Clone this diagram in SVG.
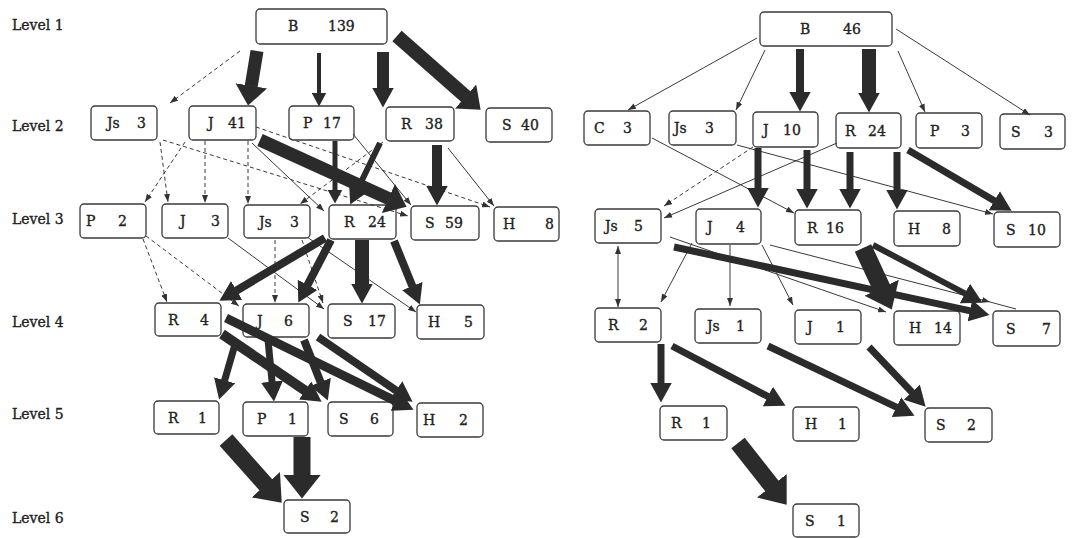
<svg xmlns="http://www.w3.org/2000/svg" width="1074" height="538" viewBox="0 0 1074 538">
<defs>
<marker id="hA" markerUnits="userSpaceOnUse" markerWidth="20" markerHeight="32" viewBox="0 0 20 32" refX="0.5" refY="16" orient="auto"><path d="M0,0 L20,16 L0,32 z" fill="#2b2b2b"/></marker>
<marker id="hE" markerUnits="userSpaceOnUse" markerWidth="24" markerHeight="38" viewBox="0 0 24 38" refX="0.5" refY="19" orient="auto"><path d="M0,0 L24,19 L0,38 z" fill="#2b2b2b"/></marker>
<marker id="hB" markerUnits="userSpaceOnUse" markerWidth="20" markerHeight="22" viewBox="0 0 20 22" refX="0.5" refY="11" orient="auto"><path d="M0,0 L20,11 L0,22 z" fill="#2b2b2b"/></marker>
<marker id="hC" markerUnits="userSpaceOnUse" markerWidth="14" markerHeight="15" viewBox="0 0 14 15" refX="0.5" refY="7.5" orient="auto"><path d="M0,0 L14,7.5 L0,15 z" fill="#2b2b2b"/></marker>
<marker id="hD" markerUnits="userSpaceOnUse" markerWidth="8" markerHeight="6" viewBox="0 0 8 6" refX="8" refY="3" orient="auto-start-reverse"><path d="M0,0 L8,3 L0,6 z" fill="#333"/></marker>
</defs>
<style>
.box{fill:#fff;stroke:#3a3a3a;stroke-width:1.3}
.t{font-family:"DejaVu Serif",serif;font-size:14px;fill:#222;stroke:#222;stroke-width:0.35}
.thin{stroke:#3a3a3a;stroke-width:1;fill:none;marker-end:url(#hD)}
.dash{stroke-dasharray:4 3}
.k{stroke:#2b2b2b;fill:none}
.kA{marker-end:url(#hA)}
.kE{marker-end:url(#hE)}
.kB{marker-end:url(#hB)}
.kC{marker-end:url(#hC)}
</style>
<rect width="1074" height="538" fill="#fff"/>
<g id="levels" class="t">
<text x="12" y="30">Level 1</text>
<text x="12" y="131">Level 2</text>
<text x="12" y="224">Level 3</text>
<text x="12" y="327">Level 4</text>
<text x="12" y="419">Level 5</text>
<text x="12" y="523">Level 6</text>
</g>
<g id="L-B139"><rect class="box" x="256" y="9" width="131" height="35" rx="4"/><text class="t" y="31"><tspan x="288">B</tspan><tspan x="328">139</tspan></text></g>
<g id="L-Js3a"><rect class="box" x="91" y="106" width="66" height="34" rx="4"/><text class="t" y="128"><tspan x="107">Js</tspan><tspan x="137">3</tspan></text></g>
<g id="L-J41"><rect class="box" x="189" y="106" width="67" height="34" rx="4"/><text class="t" y="128"><tspan x="208">J</tspan><tspan x="228">41</tspan></text></g>
<g id="L-P17"><rect class="box" x="289" y="106" width="65" height="34" rx="4"/><text class="t" y="128"><tspan x="303">P</tspan><tspan x="323">17</tspan></text></g>
<g id="L-R38"><rect class="box" x="386" y="107" width="68" height="34" rx="4"/><text class="t" y="129"><tspan x="401">R</tspan><tspan x="425">38</tspan></text></g>
<g id="L-S40"><rect class="box" x="486" y="108" width="66" height="34" rx="4"/><text class="t" y="130"><tspan x="502">S</tspan><tspan x="521">40</tspan></text></g>
<g id="L-P2"><rect class="box" x="80" y="204" width="66" height="34" rx="4"/><text class="t" y="226"><tspan x="86">P</tspan><tspan x="118">2</tspan></text></g>
<g id="L-J3"><rect class="box" x="162" y="204" width="66" height="34" rx="4"/><text class="t" y="226"><tspan x="180">J</tspan><tspan x="211">3</tspan></text></g>
<g id="L-Js3b"><rect class="box" x="244" y="205" width="66" height="33" rx="4"/><text class="t" y="226.5"><tspan x="259">Js</tspan><tspan x="290">3</tspan></text></g>
<g id="L-R24"><rect class="box" x="329" y="205" width="67" height="34" rx="4"/><text class="t" y="227"><tspan x="344">R</tspan><tspan x="368">24</tspan></text></g>
<g id="L-S59"><rect class="box" x="411" y="206" width="68" height="34" rx="4"/><text class="t" y="228"><tspan x="425">S</tspan><tspan x="445">59</tspan></text></g>
<g id="L-H8"><rect class="box" x="494" y="207" width="65" height="34" rx="4"/><text class="t" y="229"><tspan x="503">H</tspan><tspan x="545">8</tspan></text></g>
<g id="L-R4"><rect class="box" x="155" y="303" width="66" height="33" rx="4"/><text class="t" y="324.5"><tspan x="168">R</tspan><tspan x="200">4</tspan></text></g>
<g id="L-J6"><rect class="box" x="243" y="304" width="66" height="33" rx="4"/><text class="t" y="325.5"><tspan x="257">J</tspan><tspan x="284">6</tspan></text></g>
<g id="L-S17"><rect class="box" x="328" y="304" width="67" height="34" rx="4"/><text class="t" y="326"><tspan x="343">S</tspan><tspan x="368">17</tspan></text></g>
<g id="L-H5"><rect class="box" x="417" y="305" width="67" height="34" rx="4"/><text class="t" y="327"><tspan x="428">H</tspan><tspan x="464">5</tspan></text></g>
<g id="L-R1"><rect class="box" x="154" y="401" width="65" height="33" rx="4"/><text class="t" y="422.5"><tspan x="168">R</tspan><tspan x="198">1</tspan></text></g>
<g id="L-P1"><rect class="box" x="243" y="402" width="65" height="34" rx="4"/><text class="t" y="424"><tspan x="257">P</tspan><tspan x="288">1</tspan></text></g>
<g id="L-S6"><rect class="box" x="328" y="402" width="65" height="34" rx="4"/><text class="t" y="424"><tspan x="339">S</tspan><tspan x="370">6</tspan></text></g>
<g id="L-H2"><rect class="box" x="417" y="403" width="66" height="34" rx="4"/><text class="t" y="425"><tspan x="423">H</tspan><tspan x="459">2</tspan></text></g>
<g id="L-S2"><rect class="box" x="284" y="500" width="66" height="33" rx="4"/><text class="t" y="521.5"><tspan x="300">S</tspan><tspan x="330">2</tspan></text></g>
<g id="R-B46"><rect class="box" x="760" y="12" width="132" height="34" rx="4"/><text class="t" y="34"><tspan x="800">B</tspan><tspan x="843">46</tspan></text></g>
<g id="R-C3"><rect class="box" x="584" y="111" width="66" height="34" rx="4"/><text class="t" y="133"><tspan x="594">C</tspan><tspan x="623">3</tspan></text></g>
<g id="R-Js3"><rect class="box" x="669" y="111" width="67" height="34" rx="4"/><text class="t" y="133"><tspan x="674">Js</tspan><tspan x="705">3</tspan></text></g>
<g id="R-J10"><rect class="box" x="753" y="112" width="65" height="35" rx="4"/><text class="t" y="134.5"><tspan x="763">J</tspan><tspan x="783">10</tspan></text></g>
<g id="R-R24"><rect class="box" x="836" y="113" width="65" height="35" rx="4"/><text class="t" y="135.5"><tspan x="845">R</tspan><tspan x="868">24</tspan></text></g>
<g id="R-P3"><rect class="box" x="916" y="113" width="66" height="35" rx="4"/><text class="t" y="135.5"><tspan x="930">P</tspan><tspan x="961">3</tspan></text></g>
<g id="R-S3"><rect class="box" x="1000" y="114" width="65" height="35" rx="4"/><text class="t" y="136.5"><tspan x="1011">S</tspan><tspan x="1044">3</tspan></text></g>
<g id="R-Js5"><rect class="box" x="595" y="209" width="66" height="34" rx="4"/><text class="t" y="231"><tspan x="605">Js</tspan><tspan x="634">5</tspan></text></g>
<g id="R-J4"><rect class="box" x="696" y="209" width="65" height="35" rx="4"/><text class="t" y="231.5"><tspan x="707">J</tspan><tspan x="736">4</tspan></text></g>
<g id="R-R16"><rect class="box" x="795" y="210" width="66" height="35" rx="4"/><text class="t" y="232.5"><tspan x="807">R</tspan><tspan x="826">16</tspan></text></g>
<g id="R-H8"><rect class="box" x="894" y="211" width="66" height="35" rx="4"/><text class="t" y="233.5"><tspan x="908">H</tspan><tspan x="942">8</tspan></text></g>
<g id="R-S10"><rect class="box" x="994" y="212" width="66" height="35" rx="4"/><text class="t" y="234.5"><tspan x="1006">S</tspan><tspan x="1028">10</tspan></text></g>
<g id="R-R2"><rect class="box" x="595" y="308" width="66" height="34" rx="4"/><text class="t" y="330"><tspan x="608">R</tspan><tspan x="639">2</tspan></text></g>
<g id="R-Js1"><rect class="box" x="695" y="309" width="66" height="34" rx="4"/><text class="t" y="331"><tspan x="707">Js</tspan><tspan x="736">1</tspan></text></g>
<g id="R-J1"><rect class="box" x="795" y="310" width="66" height="34" rx="4"/><text class="t" y="332"><tspan x="807">J</tspan><tspan x="836">1</tspan></text></g>
<g id="R-H14"><rect class="box" x="894" y="311" width="66" height="34" rx="4"/><text class="t" y="333"><tspan x="909">H</tspan><tspan x="934">14</tspan></text></g>
<g id="R-S7"><rect class="box" x="993" y="311" width="67" height="35" rx="4"/><text class="t" y="333.5"><tspan x="1006">S</tspan><tspan x="1042">7</tspan></text></g>
<g id="R-R1"><rect class="box" x="660" y="406" width="67" height="34" rx="4"/><text class="t" y="428"><tspan x="671">R</tspan><tspan x="702">1</tspan></text></g>
<g id="R-H1"><rect class="box" x="793" y="407" width="66" height="34" rx="4"/><text class="t" y="429"><tspan x="805">H</tspan><tspan x="838">1</tspan></text></g>
<g id="R-S2"><rect class="box" x="925" y="408" width="67" height="34" rx="4"/><text class="t" y="430"><tspan x="936">S</tspan><tspan x="967">2</tspan></text></g>
<g id="R-S1"><rect class="box" x="793" y="504" width="66" height="33" rx="4"/><text class="t" y="525.5"><tspan x="805">S</tspan><tspan x="837">1</tspan></text></g>
<g id="connectors">
<line class="thin dash" x1="240" y1="51" x2="170" y2="103"/>
<line class="thin dash" x1="160" y1="142" x2="168" y2="202"/>
<line class="thin dash" x1="185" y1="142" x2="145" y2="202"/>
<line class="thin dash" x1="163" y1="140" x2="408" y2="216"/>
<line class="thin dash" x1="256" y1="127" x2="490" y2="207"/>
<line class="thin dash" x1="205" y1="141" x2="205" y2="203"/>
<line class="thin dash" x1="248" y1="141" x2="248" y2="204"/>
<line class="thin" x1="252" y1="143" x2="324" y2="211"/>
<line class="thin dash" x1="383" y1="142" x2="300" y2="204"/>
<line class="thin" x1="353" y1="134" x2="411" y2="205"/>
<line class="thin" x1="448" y1="148" x2="494" y2="206"/>
<line class="thin dash" x1="143" y1="239" x2="167" y2="302"/>
<line class="thin dash" x1="146" y1="236" x2="239" y2="306"/>
<line class="thin" x1="228" y1="238" x2="324" y2="309"/>
<line class="thin dash" x1="275" y1="240" x2="275" y2="303"/>
<line class="thin dash" x1="302" y1="240" x2="323" y2="303"/>
<line class="thin" x1="307" y1="237" x2="416" y2="312"/>
<line class="k kA" x1="257" y1="51" x2="251.2" y2="86.3" stroke-width="13"/>
<line class="k kC" x1="319" y1="53" x2="319" y2="93" stroke-width="4"/>
<line class="k kB" x1="383" y1="52" x2="383" y2="88" stroke-width="12"/>
<line class="k kA" x1="397" y1="36" x2="466" y2="96.8" stroke-width="14"/>
<line class="k kC" x1="335" y1="141" x2="335" y2="190" stroke-width="5"/>
<line class="k kB" x1="380" y1="143" x2="358.7" y2="187" stroke-width="6"/>
<line class="k kA" x1="260" y1="140" x2="388.8" y2="198.7" stroke-width="13"/>
<line class="k kB" x1="437" y1="145" x2="437" y2="186" stroke-width="10"/>
<line class="k kB" x1="325" y1="238" x2="236.2" y2="290.8" stroke-width="8"/>
<line class="k kB" x1="331" y1="240" x2="307.3" y2="285.3" stroke-width="8"/>
<line class="k kB" x1="362" y1="240" x2="362" y2="284" stroke-width="14"/>
<line class="k kB" x1="394" y1="241" x2="412.5" y2="286.5" stroke-width="8"/>
<line class="k kB" x1="226" y1="318" x2="396" y2="401.2" stroke-width="9"/>
<line class="k kB" x1="222" y1="334" x2="305.5" y2="390.8" stroke-width="10"/>
<line class="k kB" x1="236" y1="341" x2="224.5" y2="380.8" stroke-width="7"/>
<line class="k kB" x1="268" y1="340" x2="272.1" y2="382.1" stroke-width="7"/>
<line class="k kB" x1="304" y1="340" x2="320.7" y2="382.4" stroke-width="8"/>
<line class="k kB" x1="318" y1="337" x2="396.5" y2="390.7" stroke-width="8"/>
<line class="k kE" x1="226" y1="440" x2="266.1" y2="485.1" stroke-width="17"/>
<line class="k kE" x1="302" y1="437" x2="302" y2="475" stroke-width="17"/>
<line class="thin" x1="757" y1="38" x2="628" y2="110"/>
<line class="thin" x1="765" y1="50" x2="736" y2="110"/>
<line class="thin" x1="898" y1="51" x2="925" y2="112"/>
<line class="thin" x1="896" y1="29" x2="1030" y2="115"/>
<line class="thin" x1="652" y1="138" x2="794" y2="213"/>
<line class="thin" x1="737" y1="145" x2="993" y2="214"/>
<line class="thin dash" x1="753" y1="147" x2="664" y2="206"/>
<line class="thin" x1="837" y1="143" x2="664" y2="218"/>
<line class="thin" x1="618" y1="246" x2="618" y2="307" marker-start="url(#hD)"/>
<line class="thin" x1="670" y1="237" x2="886" y2="312"/>
<line class="thin" x1="692" y1="243" x2="661" y2="302"/>
<line class="thin" x1="730" y1="245" x2="730" y2="306"/>
<line class="thin" x1="762" y1="245" x2="793" y2="305"/>
<line class="thin" x1="770" y1="245" x2="990" y2="302"/>
<line class="thin" x1="990" y1="302" x2="1016" y2="309" style="marker-end:none"/>
<line class="k kB" x1="800" y1="49" x2="800" y2="92" stroke-width="8"/>
<line class="k kB" x1="869" y1="49" x2="869" y2="93" stroke-width="14"/>
<line class="k kB" x1="758" y1="148" x2="758" y2="188" stroke-width="7"/>
<line class="k kB" x1="807" y1="150" x2="807" y2="189" stroke-width="7"/>
<line class="k kB" x1="850" y1="152" x2="850" y2="189" stroke-width="7"/>
<line class="k kB" x1="897" y1="152" x2="897" y2="190" stroke-width="7"/>
<line class="k kB" x1="908" y1="150" x2="994.8" y2="200.9" stroke-width="7"/>
<line class="k kB" x1="674" y1="247" x2="970.4" y2="310.8" stroke-width="7"/>
<line class="k kE" x1="863" y1="248" x2="881.8" y2="288.2" stroke-width="18"/>
<line class="k kB" x1="873" y1="245" x2="965.3" y2="293.7" stroke-width="6"/>
<line class="k kB" x1="661" y1="344" x2="661" y2="383" stroke-width="7"/>
<line class="k kB" x1="672" y1="346" x2="768.3" y2="396.7" stroke-width="7"/>
<line class="k kB" x1="768" y1="346" x2="896.9" y2="407.4" stroke-width="7"/>
<line class="k kB" x1="869" y1="347" x2="912.2" y2="392.5" stroke-width="7"/>
<line class="k kE" x1="738" y1="443" x2="772.1" y2="486.2" stroke-width="17"/>
</g>
</svg>
